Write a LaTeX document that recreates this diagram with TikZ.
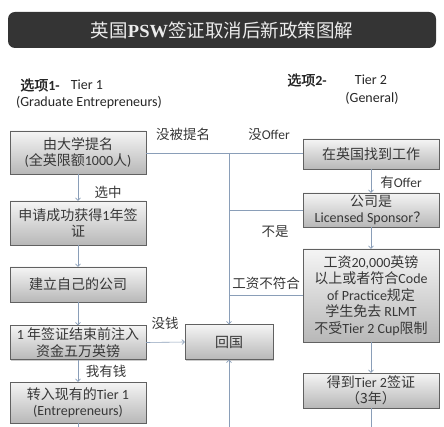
\documentclass[tikz,border=0pt]{standalone}
\usepackage{fontspec}
\setmainfont{Carlito}
\newfontfamily\cjk{Noto Sans CJK SC}
\newfontfamily\cjkbold[FakeBold=1.5]{Noto Sans CJK SC}
\newfontfamily\titlelatin{Liberation Serif}
\newcommand{\cn}[1]{{\cjk #1}}
\usetikzlibrary{arrows.meta}
\definecolor{linegray}{RGB}{138,158,184}
\definecolor{textgray}{RGB}{55,55,55}
\definecolor{titlebg}{RGB}{52,52,52}
\tikzset{
    flowbox/.style={draw=black!62, top color=black!4, bottom color=black!28, minimum width=136pt, align=center, font=\fontsize{14}{16.5}\selectfont, text=textgray, inner xsep=2pt, inner ysep=1pt, preaction={fill=black!20, transform canvas={xshift=1.2pt,yshift=-1.2pt}}},
    flowline/.style={draw=linegray, line width=0.6pt},
    flowarrow/.style={flowline, -{Straight Barb[length=2.5pt,width=5pt]}},
    edgelabel/.style={font=\fontsize{13.5}{15}\selectfont, text=textgray, inner sep=0pt},
    headlabel/.style={font=\fontsize{14}{17}\selectfont, text=black!85, inner sep=0pt, align=center},
}
\begin{document}
\begin{tikzpicture}[x=1pt,y=1pt]
    \useasboundingbox (0,-427) rectangle (444,0);
    % Title bar
    \node[fill=titlebg, rounded corners=7pt, minimum width=428pt, minimum height=36pt, text=white!92!black, font=\fontsize{18.5}{20}\selectfont] (title) at (222,-30) {\cn{英国}{\titlelatin\bfseries PSW}\cn{签证取消后新政策图解}};
    % Option headers
    \node[headlabel] (opt1) at (40,-85) {{\cjkbold 选项}\textbf{1-}};
    \node[headlabel] (opt1tier) at (87,-85) {Tier 1};
    \node[headlabel] (opt1name) at (89,-103) {(Graduate Entrepreneurs)};
    \node[headlabel] (opt2) at (307,-80) {{\cjkbold 选项}\textbf{2-}};
    \node[headlabel] (opt2tier) at (371,-80) {Tier 2};
    \node[headlabel] (opt2name) at (372,-98) {(General)};
    % Tier 1 column
    \node[flowbox, minimum height=43pt] (nominate) at (78,-152.5) {\cn{由大学提名}\\(\cn{全英限额}1000\cn{人})};
    \node[flowbox, minimum height=44pt] (visa1) at (78,-223) {\cn{申请成功获得}1\cn{年签}\\\cn{证}};
    \node[flowbox, minimum height=35pt] (company) at (78,-284.5) {\cn{建立自己的公司}};
    \node[flowbox, minimum height=34pt] (fund) at (78,-342.5) {1 \cn{年签证结束前注入}\\\cn{资金五万英镑}};
    \node[flowbox, minimum height=41pt] (entre) at (78,-402.5) {\cn{转入现有的}Tier 1\\(Entrepreneurs)};
    % Tier 2 column
    \node[flowbox, minimum height=30pt] (findjob) at (371,-154) {\cn{在英国找到工作}};
    \node[flowbox, minimum height=34pt] (sponsor) at (371,-210) {\cn{公司是}\\Licensed Sponsor\cn{？}};
    \node[flowbox, minimum height=93pt] (salary) at (371,-295.5) {\cn{工资}20,000\cn{英镑}\\\cn{以上或者符合}Code\\of Practice\cn{规定}\\\cn{学生免去} RLMT\\\cn{不受}Tier 2 Cup\cn{限制}};
    \node[flowbox, minimum height=35pt] (tier2) at (371,-390.5) {\cn{得到}Tier 2\cn{签证}\\\cn{（3年）}};
    % Back home
    \node[flowbox, minimum width=88pt, minimum height=35pt] (home) at (229,-342) {\cn{回国}};
    \coordinate (j1) at (229,-153);
    \coordinate (j2) at (229,-210);
    \coordinate (j3) at (229,-295);
    \coordinate (homeend) at (229,-427);
    \coordinate (leftend) at (78,-427);
    \coordinate (rightend) at (371,-427);
    % Connectors
    \draw[flowarrow] (nominate) -- (visa1);
    \draw[flowarrow] (visa1) -- (company);
    \draw[flowarrow] (company) -- (fund);
    \draw[flowarrow] (fund) -- (entre);
    \draw[flowline] (entre) -- (leftend);
    \draw[flowarrow] (findjob) -- (sponsor);
    \draw[flowarrow] (sponsor) -- (salary);
    \draw[flowarrow] (salary) -- (tier2);
    \draw[flowline] (tier2) -- (rightend);
    \draw[flowline] (nominate.east |- j1) -- (findjob.west |- j1);
    \draw[flowline] (sponsor.west |- j2) -- (j2);
    \draw[flowline] (salary.west |- j3) -- (j3);
    \draw[flowarrow] (j1) -- (home.north);
    \draw[flowarrow] (homeend) -- (home.south);
    \draw[flowarrow] (fund.east) -- (home.west);
    % Labels
    \node[edgelabel] (nonom) at (183,-134) {\cn{没被提名}};
    \node[edgelabel] (nooffer) at (269,-134) {\cn{没}Offer};
    \node[edgelabel] (chosen) at (108,-192) {\cn{选中}};
    \node[edgelabel] (offer) at (401,-182) {\cn{有}Offer};
    \node[edgelabel] (notsponsor) at (275,-232) {\cn{不是}};
    \node[edgelabel] (lowpay) at (266,-283) {\cn{工资不符合}};
    \node[edgelabel] (nomoney) at (165,-323) {\cn{没钱}};
    \node[edgelabel] (money) at (106,-371) {\cn{我有钱}};
\end{tikzpicture}
\end{document}
